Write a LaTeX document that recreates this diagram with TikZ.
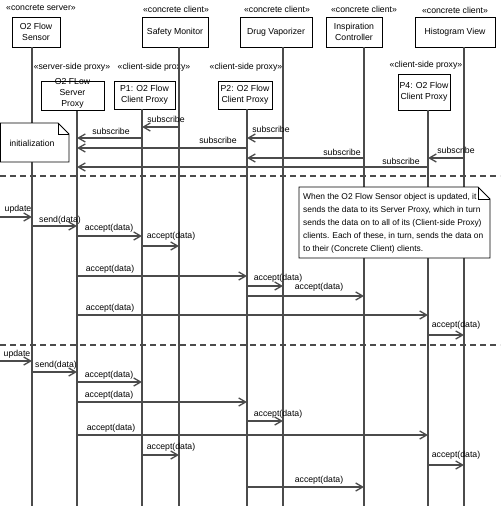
\documentclass[tikz,border=0pt]{standalone}
\usepackage{fontspec}
\setmainfont{Liberation Sans}
\usetikzlibrary{arrows.meta,calc}
\definecolor{ln}{RGB}{75,75,75}
\begin{document}
\begin{tikzpicture}[x=1pt,y=-1pt,
  every node/.style={font=\fontsize{8.7}{11}\selectfont, inner sep=0pt},
  obj/.style={draw=black, line width=0.9pt, fill=white, align=center},
  life/.style={draw=ln, line width=1.2pt},
  msg/.style={draw=ln, line width=1.3pt, -{Straight Barb[length=7pt,width=8pt]}},
  sepline/.style={draw=ln, line width=1.2pt, dash pattern=on 6pt off 4pt},
  notebox/.style={draw=black, line width=0.9pt, fill=white},
  lbl/.style={anchor=base}
]
\useasboundingbox (0,0) rectangle (500,508);

% lifeline x positions
\coordinate (xedge) at (0,0);
\coordinate (xright) at (500,0);
\coordinate (xs) at (32,0);
\coordinate (xsp) at (77,0);
\coordinate (xp1) at (142,0);
\coordinate (xsm) at (179,0);
\coordinate (xp2) at (247,0);
\coordinate (xdv) at (283,0);
\coordinate (xic) at (364,0);
\coordinate (xp4) at (428,0);
\coordinate (xhv) at (464,0);

% stereotypes
\node (st1) at (41,8) {«concrete server»};
\node (st2) at (176,9) {«concrete client»};
\node (st3) at (277,9) {«concrete client»};
\node (st4) at (364,9) {«concrete client»};
\node (st5) at (455,10) {«concrete client»};
\node (st6) at (72,67) {«server-side proxy»};
\node (st7) at (154,67) {«client-side proxy»};
\node (st8) at (246,67) {«client-side proxy»};
\node (st9) at (426,65) {«client-side proxy»};

% object boxes
\node[obj, minimum width=48pt, minimum height=30pt] (sensor) at (36,32) {O2 Flow\\Sensor};
\node[obj, minimum width=66pt, minimum height=30pt] (sm) at (175,32) {Safety Monitor};
\node[obj, minimum width=72pt, minimum height=30pt] (dv) at (276,32) {Drug Vaporizer};
\node[obj, minimum width=56pt, minimum height=30pt] (ic) at (354,32) {Inspiration\\Controller};
\node[obj, minimum width=80pt, minimum height=30pt] (hv) at (455,32) {Histogram View};
\node[obj, minimum width=63pt, minimum height=29pt] (sp) at (72.5,96) {};
\node[align=center] (sptext) at (72.5,93) {O2 FLow\\Server\\Proxy};
\node[obj, minimum width=61pt, minimum height=28pt] (p1) at (144.5,95) {P1: O2 Flow\\Client Proxy};
\node[obj, minimum width=54pt, minimum height=28pt] (p2) at (245,95) {P2: O2 Flow\\Client Proxy};
\node[obj, minimum width=52pt, minimum height=36pt] (p4) at (424,92) {P4: O2 Flow\\Client Proxy};

% lifelines
\draw[life] (sensor.south -| xs) -- (xs |- 0,506);
\draw[life] (sp.south -| xsp) -- (xsp |- 0,506);
\draw[life] (p1.south -| xp1) -- (xp1 |- 0,506);
\draw[life] (sm.south -| xsm) -- (xsm |- 0,506);
\draw[life] (p2.south -| xp2) -- (xp2 |- 0,506);
\draw[life] (dv.south -| xdv) -- (xdv |- 0,506);
\draw[life] (ic.south -| xic) -- (xic |- 0,506);
\draw[life] (p4.south -| xp4) -- (xp4 |- 0,506);
\draw[life] (hv.south -| xhv) -- (xhv |- 0,506);

% notes
\draw[notebox] (0.5,123) -- (58,123) -- (69,134) -- (69,162) -- (0.5,162) -- cycle;
\draw[line width=0.9pt] (58,123) -- (58,134) -- (69,134);
\node (init) at (32,143) {initialization};

\draw[notebox] (299,187) -- (478,187) -- (490,199) -- (490,258) -- (299,258) -- cycle;
\draw[line width=0.9pt] (478,187) -- (478,199) -- (490,199);
\node[anchor=north west, align=left, font=\fontsize{8.4}{13}\selectfont] (note) at (303,193)
  {When the O2 Flow Sensor object is updated, it\\
   sends the data to its Server Proxy, which in turn\\
   sends the data on to all of its (Client-side Proxy)\\
   clients. Each of these, in turn, sends the data on\\
   to their (Concrete Client) clients.};

% separators
\draw[sepline] (xedge |- 0,176) -- (xright |- 0,176);
\draw[sepline] (xedge |- 0,345) -- (xright |- 0,345);

% initialization: subscriptions
\draw[msg] (xsm |- 0,127) -- (xp1 |- 0,127);
\node[lbl] (s1) at (166,122) {subscribe};
\draw[msg] (xp1 |- 0,138) -- (xsp |- 0,138);
\node[lbl] (s2) at (111,135) {subscribe};
\draw[msg] (xdv |- 0,138) -- (xp2 |- 0,138);
\node[lbl] (s3) at (271,132) {subscribe};
\draw[msg] (xp2 |- 0,148) -- (xsp |- 0,148);
\node[lbl] (s4) at (218,143) {subscribe};
\draw[msg] (xic |- 0,158) -- (xp2 |- 0,158);
\node[lbl] (s5) at (342,155) {subscribe};
\draw[msg] (xhv |- 0,158) -- (xp4 |- 0,158);
\node[lbl] (s6) at (456,153) {subscribe};
\draw[msg] (xp4 |- 0,167) -- (xsp |- 0,167);
\node[lbl] (s7) at (401,164) {subscribe};

% first update
\draw[msg] (xedge |- 0,217) -- (xs |- 0,217);
\node[lbl] (u1) at (18,211) {update};
\draw[msg] (xs |- 0,226) -- (xsp |- 0,226);
\node[lbl] (d1) at (60,222) {send(data)};
\draw[msg] (xsp |- 0,236) -- (xp1 |- 0,236);
\node[lbl] (a1) at (109,230) {accept(data)};
\draw[msg] (xp1 |- 0,246) -- (xsm |- 0,246);
\node[lbl] (a2) at (171,238) {accept(data)};
\draw[msg] (xsp |- 0,276) -- (xp2 |- 0,276);
\node[lbl] (a3) at (110,271) {accept(data)};
\draw[msg] (xp2 |- 0,286) -- (xdv |- 0,286);
\node[lbl] (a4) at (278,280) {accept(data)};
\draw[msg] (xp2 |- 0,296) -- (xic |- 0,296);
\node[lbl] (a5) at (319,289) {accept(data)};
\draw[msg] (xsp |- 0,315) -- (xp4 |- 0,315);
\node[lbl] (a6) at (110,310) {accept(data)};
\draw[msg] (xp4 |- 0,335) -- (xhv |- 0,335);
\node[lbl] (a7) at (456,327) {accept(data)};

% second update
\draw[msg] (xedge |- 0,361) -- (xs |- 0,361);
\node[lbl] (u2) at (17,356) {update};
\draw[msg] (xs |- 0,372) -- (xsp |- 0,372);
\node[lbl] (d2) at (56,367) {send(data)};
\draw[msg] (xsp |- 0,382) -- (xp1 |- 0,382);
\node[lbl] (b1) at (109,377) {accept(data)};
\draw[msg] (xsp |- 0,402) -- (xp2 |- 0,402);
\node[lbl] (b2) at (109,397) {accept(data)};
\draw[msg] (xp2 |- 0,421) -- (xdv |- 0,421);
\node[lbl] (b3) at (278,416) {accept(data)};
\draw[msg] (xsp |- 0,435) -- (xp4 |- 0,435);
\node[lbl] (b4) at (111,430) {accept(data)};
\draw[msg] (xp1 |- 0,455) -- (xsm |- 0,455);
\node[lbl] (b5) at (171,449) {accept(data)};
\draw[msg] (xp4 |- 0,465) -- (xhv |- 0,465);
\node[lbl] (b6) at (456,457) {accept(data)};
\draw[msg] (xp2 |- 0,487) -- (xic |- 0,487);
\node[lbl] (b7) at (319,482) {accept(data)};
\end{tikzpicture}
\end{document}
